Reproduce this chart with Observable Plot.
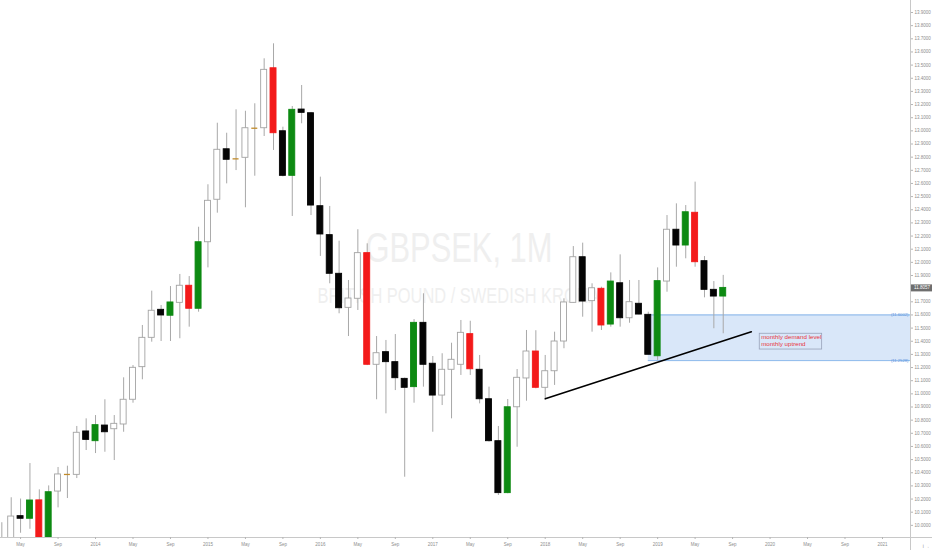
<!DOCTYPE html>
<html><head><meta charset="utf-8">
<script src="https://cdn.jsdelivr.net/npm/d3@7"></script>
<script src="https://cdn.jsdelivr.net/npm/@observablehq/plot@0.6"></script>
<style>body{margin:0;background:#fff}#chart svg{display:block}</style>
</head><body><div id="chart"></div>
<script>
// ---- data (GBPSEK monthly candles) ----
const months = ["2013-03","2013-04","2013-05","2013-06","2013-07","2013-08","2013-09","2013-10","2013-11","2013-12",
"2014-01","2014-02","2014-03","2014-04","2014-05","2014-06","2014-07","2014-08","2014-09","2014-10","2014-11","2014-12",
"2015-01","2015-02","2015-03","2015-04","2015-05","2015-06","2015-07","2015-08","2015-09","2015-10","2015-11","2015-12",
"2016-01","2016-02","2016-03","2016-04","2016-05","2016-06","2016-07","2016-08","2016-09","2016-10","2016-11","2016-12",
"2017-01","2017-02","2017-03","2017-04","2017-05","2017-06","2017-07","2017-08","2017-09","2017-10","2017-11","2017-12",
"2018-01","2018-02","2018-03","2018-04","2018-05","2018-06","2018-07","2018-08","2018-09","2018-10","2018-11","2018-12",
"2019-01","2019-02","2019-03","2019-04","2019-05","2019-06","2019-07","2019-08"];
const open = [9.86,9.88,10.07,10.05,10.19,9.88,10.257,10.387,10.384,10.714,
10.64,10.759,10.731,10.767,10.955,11.203,11.426,11.639,11.594,11.692,11.822,11.647,
12.153,12.476,12.86,12.787,12.795,13.02,13.02,13.476,12.997,12.658,13.162,13.134,
12.427,12.207,11.913,11.654,11.723,12.07,11.221,11.317,11.241,11.114,11.051,11.54,
11.229,10.987,11.183,11.221,11.454,11.183,10.959,10.64,10.245,10.898,11.117,11.322,
11.046,11.172,11.398,11.692,12.039,11.705,11.799,11.527,11.841,11.575,11.685,11.601,
11.286,11.854,12.248,12.128,12.377,12.009,11.791,11.74];
const high = [10.02,10.21,10.20,10.47,10.27,10.30,10.44,10.45,10.752,10.81,
10.835,10.955,10.835,11.122,11.215,11.52,11.781,11.672,11.816,11.908,11.892,12.267,
12.59,13.058,12.982,13.16,13.149,13.206,13.548,13.662,13.028,13.185,13.345,13.14,
12.648,12.425,12.161,11.862,12.248,12.141,11.436,11.406,11.451,11.12,11.565,11.761,
11.284,11.305,11.385,11.558,11.552,11.292,11.051,10.752,10.957,11.185,11.482,11.48,
11.292,11.469,11.723,12.12,12.146,11.837,11.811,11.92,12.057,11.862,11.862,11.621,
11.958,12.356,12.445,12.432,12.61,12.044,11.854,11.901];
const low = [9.80,9.80,9.94,9.97,9.80,9.82,10.133,10.204,10.356,10.569,
10.546,10.556,10.493,10.708,10.929,11.107,11.393,11.398,11.398,11.419,11.507,11.621,
11.958,12.374,12.597,12.698,12.415,12.655,12.957,12.851,12.65,12.349,13.054,12.356,
12.045,11.837,11.609,11.436,11.634,11.215,10.955,10.848,11.025,10.366,10.929,11.051,
10.708,10.911,10.81,11.14,11.14,10.924,10.633,10.227,10.24,10.594,10.944,11.038,
10.962,11.064,11.343,11.69,11.583,11.469,11.482,11.507,11.507,11.537,11.60,11.297,
11.254,11.773,11.963,12.027,11.963,11.73,11.495,11.457];
const close = [9.90,10.067,10.05,10.189,9.85,10.252,10.387,10.387,10.704,10.65,
10.762,10.708,10.772,10.955,11.198,11.426,11.632,11.596,11.695,11.822,11.647,12.153,
12.468,12.856,12.78,12.787,13.02,13.02,13.464,12.982,12.658,13.16,13.137,12.432,
12.212,11.913,11.651,11.725,12.07,11.221,11.309,11.241,11.119,11.046,11.54,11.221,
10.987,11.183,11.259,11.464,11.187,10.959,10.64,10.245,10.898,11.122,11.322,11.046,
11.172,11.398,11.695,12.039,11.702,11.803,11.52,11.854,11.575,11.697,11.603,11.297,
11.857,12.248,12.128,12.381,12.001,11.791,11.74,11.8057];
// bar colouring: w = hollow, b = black, g = green, r = red, d = doji
const barColor = ["w","w","b","g","r","g","w","d","w","b",
"g","b","w","w","w","w","w","b","g","w","r","g",
"w","w","b","d","w","d","w","r","b","g","b","b",
"b","b","b","w","w","r","w","b","b","b","g","b",
"b","w","w","w","r","b","b","b","g","w","w","r",
"w","w","w","w","b","w","r","g","b","w","b","b",
"g","w","b","g","r","b","b","g"];

const tickMonths = ["2013-05","2013-09","2014-01","2014-05","2014-09","2015-01","2015-05","2015-09","2016-01","2016-05","2016-09",
"2017-01","2017-05","2017-09","2018-01","2018-05","2018-09","2019-01","2019-05","2019-09","2020-01","2020-05","2020-09","2021-01"];
const tickLabels = ["May","Sep","2014","May","Sep","2015","May","Sep","2016","May","Sep",
"2017","May","Sep","2018","May","Sep","2019","May","Sep","2020","May","Sep","2021"];
const priceTicks = [10.0,10.1,10.2,10.3,10.4,10.5,10.6,10.7,10.8,10.9,11.0,11.1,11.2,11.3,11.4,11.5,11.6,11.7,11.8,11.9,
12.0,12.1,12.2,12.3,12.4,12.5,12.6,12.7,12.8,12.9,13.0,13.1,13.2,13.3,13.4,13.5,13.6,13.7,13.8,13.9];

const zone = {from: "2018-12", top: 11.6002, bottom: 11.2528};
const trend = [{m: "2018-01", v: 10.962}, {m: "2019-11", v: 11.472}];
const note = {from: "2019-12", to: "2020-06", top: 11.457, bottom: 11.337, text: "monthly demand level\nmonthly uptrend"};
const title = "GBPSEK, 1M";
const subtitle = "BRITISH POUND / SWEDISH KRONA";

// ---- build ----
const mi = s => { const [y, m] = s.split("-").map(Number); return (y - 2013) * 12 + (m - 1); };
const bars = months.map((m, k) => ({i: mi(m), o: open[k], h: high[k], l: low[k], c: close[k], col: barColor[k]}));
const fillOf = {w: "#ffffff", b: "#050505", g: "#0d8a12", r: "#f31a1a", d: "#c08a2a"};
const strokeOf = {w: "#a3a3a3", b: "#050505", g: "#0d8a12", r: "#f31a1a", d: "#c08a2a"};
const half = 0.32;
const xDomain = [1.857, 98.99];
const yDomain = [9.9076, 13.9913];
const xExt = xDomain[0] + (xDomain[1] - xDomain[0]) * 932 / 910;
const yExt = yDomain[0] - (yDomain[1] - yDomain[0]) * 13 / 537;
const last = bars[bars.length - 1];
const tickIdx = tickMonths.map(mi);
const labelMap = new Map(tickIdx.map((d, k) => [d, tickLabels[k]]));
const body = bars.filter(d => d.col !== "d");
const doji = bars.filter(d => d.col === "d");

const chart = Plot.plot({
  width: 932, height: 550,
  marginLeft: 0, marginRight: 22, marginTop: 0, marginBottom: 13,
  x: {domain: xDomain, axis: null},
  y: {domain: yDomain, axis: null},
  style: {fontFamily: "'Liberation Sans', Arial, sans-serif", fontSize: "4.5px", color: "#8d8d8d", background: "#ffffff"},
  marks: [
    Plot.text([title], {frameAnchor: "middle", dx: 3.5, dy: -21, fontSize: 43, fill: "#efefef", text: d => d}),
    Plot.text([subtitle], {frameAnchor: "middle", dx: 3, dy: 26.5, fontSize: 22, fill: "#efefef", text: d => d}),
    Plot.rect([zone], {x1: d => mi(d.from), x2: xDomain[1], y1: "bottom", y2: "top", fill: "#d9e7f9", clip: true}),
    Plot.ruleY([zone.top, zone.bottom], {x1: mi(zone.from), x2: xDomain[1], stroke: "#6fa6e6", strokeWidth: 0.8}),
    Plot.ruleX(bars, {x: "i", y1: "l", y2: "h", stroke: "#a8a8a8", strokeWidth: 1, clip: true}),
    Plot.rect(body, {x1: d => d.i - half, x2: d => d.i + half, y1: "o", y2: "c",
      fill: d => fillOf[d.col], stroke: d => strokeOf[d.col], strokeWidth: 0.9, clip: true}),
    Plot.ruleY(doji, {y: "c", x1: d => d.i - half, x2: d => d.i + half, stroke: d => strokeOf[d.col], strokeWidth: 1.3}),
    Plot.line(trend, {x: d => mi(d.m), y: "v", stroke: "#000", strokeWidth: 1.6}),
    Plot.rect([note], {x1: d => mi(d.from) - 0.1, x2: d => mi(d.to) + 0.56, y1: "bottom", y2: "top", fill: "none", stroke: "#98a2b8", strokeWidth: 0.8}),
    Plot.text([note], {x: d => mi(d.from), y: "top", text: "text", textAnchor: "start", lineAnchor: "top", dx: 0.5, dy: 0.6,
      fontSize: 6.2, lineHeight: 1.12, fill: "#e8323a"}),
    Plot.text([zone.top, zone.bottom], {x: xDomain[1], y: d => d, text: d => "(" + d.toFixed(4) + ")", textAnchor: "end", dx: -2,
      fill: "#5b95dd", fontSize: 4.2}),
    Plot.ruleX([xDomain[1]], {y1: yExt, y2: yDomain[1], stroke: "#c8c8c8", strokeWidth: 1}),
    Plot.ruleY([yDomain[0]], {x1: xDomain[0], x2: xExt, stroke: "#c8c8c8", strokeWidth: 1}),
    Plot.axisY({anchor: "right", ticks: priceTicks, tickFormat: d3.format(".4f"), tickSize: 2, tickPadding: 2, stroke: "#b5b5b5"}),
    Plot.axisX({anchor: "bottom", ticks: tickIdx, tickFormat: d => labelMap.get(d), tickSize: 2, tickPadding: 3, stroke: "#b5b5b5"}),
    Plot.ruleY([last.c], {x1: xDomain[1] + 0.1, x2: xExt, stroke: "#6e6e6e", strokeWidth: 7}),
    Plot.text([last.c], {x: xDomain[1], y: d => d, text: d => d.toFixed(4), textAnchor: "start", dx: 3.5, fill: "#ffffff", fontSize: 4.5})
  ]
});
// condensed watermark lettering
chart.querySelectorAll("text").forEach(t => {
  if (t.textContent === title) { t.setAttribute("textLength", 187); t.setAttribute("lengthAdjust", "spacingAndGlyphs"); }
  if (t.textContent === subtitle) { t.setAttribute("textLength", 282); t.setAttribute("lengthAdjust", "spacingAndGlyphs"); }
});
document.getElementById("chart").appendChild(chart);
</script>
</body></html>
